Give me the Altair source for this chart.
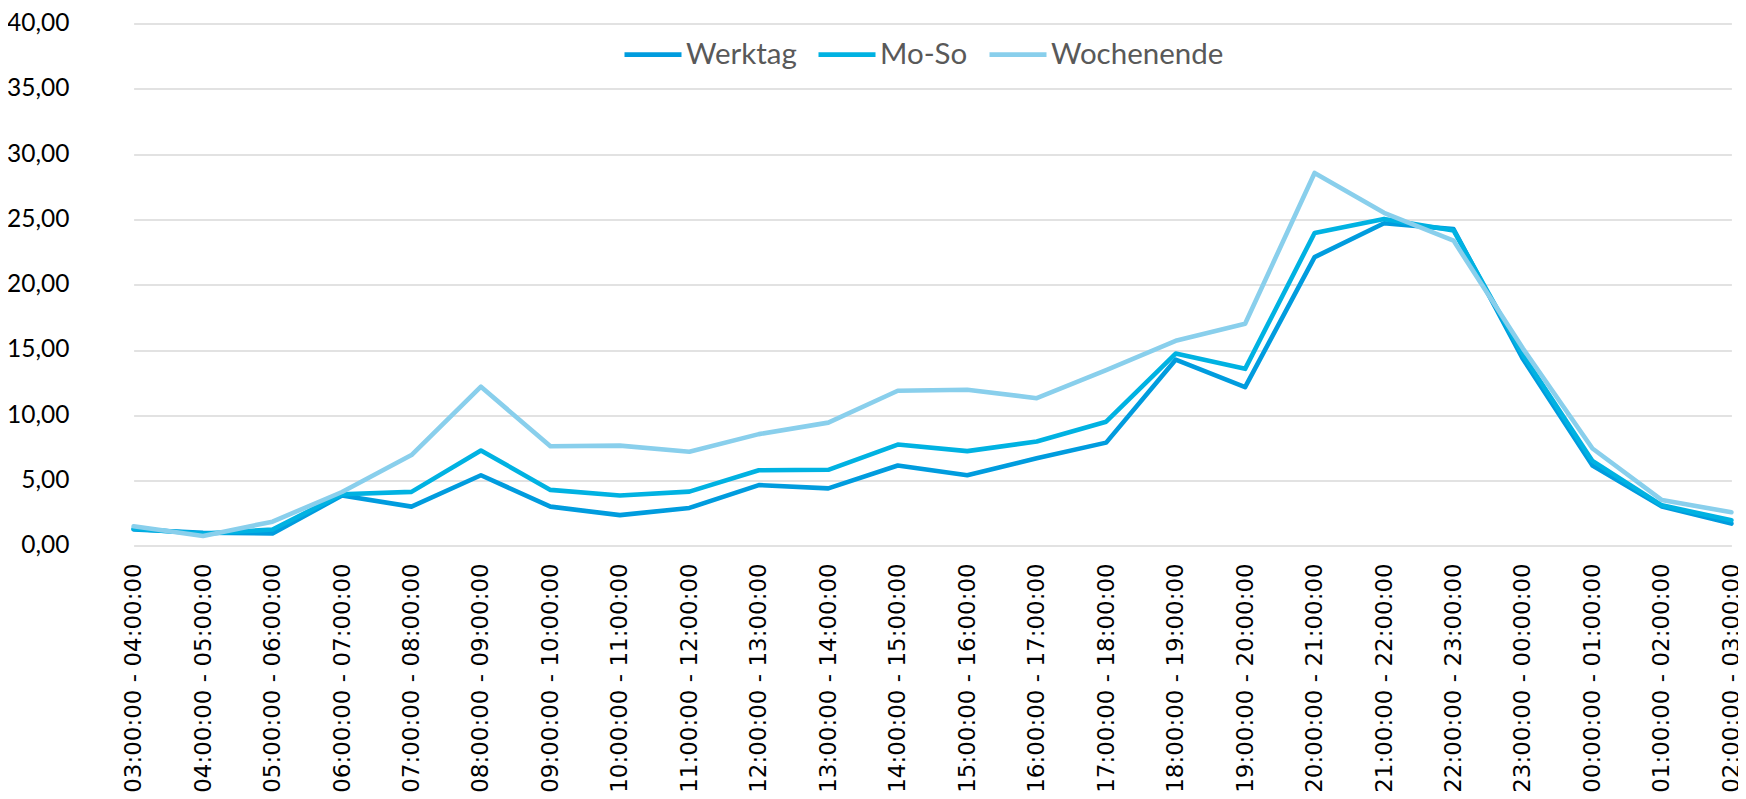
import altair as alt
import pandas as pd

zeiten = [
    "03:00:00 - 04:00:00", "04:00:00 - 05:00:00", "05:00:00 - 06:00:00",
    "06:00:00 - 07:00:00", "07:00:00 - 08:00:00", "08:00:00 - 09:00:00",
    "09:00:00 - 10:00:00", "10:00:00 - 11:00:00", "11:00:00 - 12:00:00",
    "12:00:00 - 13:00:00", "13:00:00 - 14:00:00", "14:00:00 - 15:00:00",
    "15:00:00 - 16:00:00", "16:00:00 - 17:00:00", "17:00:00 - 18:00:00",
    "18:00:00 - 19:00:00", "19:00:00 - 20:00:00", "20:00:00 - 21:00:00",
    "21:00:00 - 22:00:00", "22:00:00 - 23:00:00", "23:00:00 - 00:00:00",
    "00:00:00 - 01:00:00", "01:00:00 - 02:00:00", "02:00:00 - 03:00:00",
]
werktag = [1.25, 1.0, 0.95, 3.85, 3.0, 5.4, 3.0, 2.35, 2.9, 4.65, 4.4, 6.15,
           5.4, 6.7, 7.9, 14.25, 12.15, 22.1, 24.7, 24.25, 14.3, 6.15, 3.0, 1.7]
mo_so = [1.3, 0.92, 1.25, 3.95, 4.13, 7.3, 4.28, 3.85, 4.15, 5.78, 5.82, 7.75,
         7.25, 7.98, 9.5, 14.72, 13.55, 23.95, 25.03, 24.15, 14.6, 6.5, 3.1, 1.95]
wochenende = [1.5, 0.75, 1.85, 4.12, 6.95, 12.18, 7.62, 7.67, 7.2, 8.55, 9.43, 11.87,
              11.95, 11.3, 13.45, 15.7, 17.0, 28.55, 25.5, 23.37, 15.1, 7.45, 3.5, 2.57]

serien = ["Werktag", "Mo-So", "Wochenende"]
farben = ["#009CDE", "#00B2E2", "#89CFEC"]
werte = [werktag, mo_so, wochenende]

rows = []
for name, vals in zip(serien, werte):
    for z, v in zip(zeiten, vals):
        rows.append({"Zeit": z, "Serie": name, "Wert": v})
df = pd.DataFrame(rows)

x_scale = alt.Scale(type="point", domain=zeiten, range=[33.6, 1631.4], padding=0)
y_scale = alt.Scale(domain=[0, 40], nice=False, zero=True)
x_axis = alt.Axis(
    title=None, labelAngle=-90, labelFont="DejaVu Sans", labelFontSize=23,
    labelColor="#000000", labelPadding=17, ticks=False, tickSize=0, domain=False,
    grid=False, labelLimit=0, labelOverlap=False,
)
y_axis = alt.Axis(
    title=None, values=[0, 5, 10, 15, 20, 25, 30, 35, 40],
    labelExpr="replace(format(datum.value, '.2f'), '.', ',')",
    labelFont="Lato", labelFontSize=24.5, labelColor="#000000", labelPadding=31,
    ticks=False, tickSize=0, domain=False, grid=True, gridColor="#d9d9d9",
    gridWidth=1.5,
)
legend = alt.Legend(
    title=None, orient="none", legendX=522, legendY=0, direction="horizontal",
    symbolType="stroke", symbolSize=3249, symbolStrokeWidth=4.7,
    labelFont="Lato", labelFontSize=29.5, labelColor="#595959", labelOffset=2,
    columnPadding=12, padding=0, labelLimit=0,
)
color_scale = alt.Scale(domain=serien, range=farben)

layers = []
for name in serien:
    layers.append(
        alt.Chart(df)
        .transform_filter(alt.datum.Serie == name)
        .mark_line(strokeWidth=4.6, strokeJoin="round", strokeCap="round")
        .encode(
            x=alt.X("Zeit:N", sort=zeiten, scale=x_scale, axis=x_axis),
            y=alt.Y("Wert:Q", scale=y_scale, axis=y_axis),
            color=alt.Color("Serie:N", scale=color_scale, legend=legend, sort=serien),
        )
    )

chart = (
    alt.layer(*layers)
    .properties(
        width=1638, height=522.4,
        autosize=alt.AutoSizeParams(type="none"),
        padding={"left": 92, "top": 15.4, "right": 0, "bottom": 253.2},
        background="white",
    )
    .configure_view(strokeWidth=0)
)

chart.save("out.html", embed_options={"renderer": "svg", "actions": False})
